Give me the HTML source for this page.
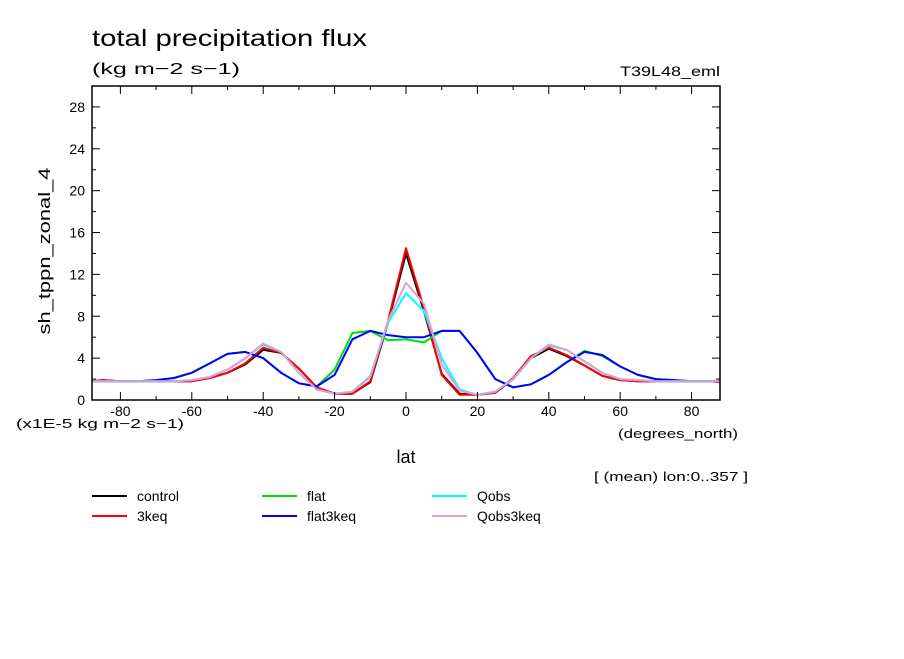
<!DOCTYPE html>
<html><head><meta charset="utf-8"><style>
body{margin:0;background:#fff;width:904px;height:654px;overflow:hidden}
svg{font-family:"Liberation Sans",sans-serif}
</style></head><body>
<svg id="c" width="904" height="654">
<text x="92" y="46" font-size="23" textLength="275" lengthAdjust="spacingAndGlyphs">total precipitation flux</text>
<text x="92" y="74" font-size="16" textLength="148" lengthAdjust="spacingAndGlyphs">(kg m−2 s−1)</text>
<text x="620" y="76" font-size="14" textLength="100" lengthAdjust="spacingAndGlyphs">T39L48_eml</text>
<text transform="translate(50,251) rotate(-90)" font-size="17" text-anchor="middle" textLength="167" lengthAdjust="spacingAndGlyphs">sh_tppn_zonal_4</text>
<text x="16" y="428" font-size="13" textLength="168" lengthAdjust="spacingAndGlyphs">(x1E-5 kg m−2 s−1)</text>
<text x="618" y="438" font-size="13" textLength="120" lengthAdjust="spacingAndGlyphs">(degrees_north)</text>
<text x="406" y="463" font-size="18" text-anchor="middle">lat</text>
<text x="594" y="481" font-size="13" textLength="154" lengthAdjust="spacingAndGlyphs">[ (mean) lon:0..357 ]</text>
<g id="plot"></g>
<g id="legend"></g>
</svg>
<script>
const lats=[-88,-85,-80,-75,-70,-65,-60,-55,-50,-45,-40,-35,-30,-25,-20,-15,-10,-5,0,5,10,15,20,25,30,35,40,45,50,55,60,65,70,75,80,85,88];
const control=[1.8,1.9,1.8,1.8,1.8,1.8,1.8,2.1,2.6,3.4,4.8,4.5,3.0,1.2,0.6,0.6,1.7,7.4,14.0,8.5,2.5,0.6,0.5,0.7,2.0,4.0,4.9,4.2,3.3,2.3,1.9,1.8,1.8,1.8,1.8,1.8,1.8];
const keq3=[1.8,1.9,1.8,1.8,1.8,1.8,1.8,2.1,2.6,3.5,5.0,4.5,3.0,1.2,0.6,0.6,1.8,7.6,14.5,8.8,2.4,0.5,0.5,0.7,2.1,4.2,5.0,4.3,3.3,2.3,1.9,1.8,1.8,1.8,1.8,1.8,1.7];
const flat=[1.8,1.8,1.8,1.8,1.9,2.1,2.6,3.5,4.4,4.6,4.0,2.6,1.6,1.3,2.9,6.4,6.6,5.7,5.8,5.5,6.6,6.6,4.5,2.0,1.2,1.5,2.4,3.6,4.7,4.2,3.2,2.4,2.0,1.9,1.8,1.8,1.8];
const flat3keq=[1.8,1.8,1.8,1.8,1.9,2.1,2.6,3.5,4.4,4.6,4.0,2.6,1.6,1.3,2.4,5.8,6.6,6.2,6.0,6.0,6.6,6.6,4.5,2.0,1.2,1.5,2.4,3.6,4.6,4.3,3.2,2.4,2.0,1.9,1.8,1.8,1.8];
const qobs=[1.8,1.8,1.8,1.8,1.8,1.8,1.9,2.2,2.9,4.0,5.3,4.6,2.6,1.0,0.6,0.8,2.3,7.4,10.2,8.5,4.0,1.0,0.5,0.8,2.0,4.0,5.2,4.8,3.7,2.6,2.0,1.9,1.8,1.8,1.8,1.8,1.8];
const qobs3keq=[1.8,1.8,1.8,1.8,1.8,1.8,1.9,2.2,2.9,4.0,5.4,4.6,2.6,1.0,0.6,0.8,2.2,7.6,11.2,9.2,3.4,0.9,0.5,0.8,2.0,4.0,5.3,4.8,3.7,2.6,2.0,1.9,1.8,1.8,1.8,1.8,1.8];
const yTicks=[0,4,8,12,16,20,24,28];
const xTicks=[-80,-60,-40,-20,0,20,40,60,80];
const names=["control","3keq","flat","flat3keq","Qobs","Qobs3keq"];
const colors=["#000","#f00","#0d0","#00f","#0ff","#d9a0d9"];
const series=[control,keq3,flat,flat3keq,qobs,qobs3keq];
const X0=92,X1=720,Y0=400,Y1=86;
const xs=v=>406+v*3.57;
const ys=v=>Y0-(v/30)*(Y0-Y1);
const NS="http://www.w3.org/2000/svg";
const plot=document.getElementById('plot');
function mk(t,a,p){const e=document.createElementNS(NS,t);for(const k in a)e.setAttribute(k,a[k]);(p||plot).appendChild(e);return e;}
series.forEach((s,i)=>{
 const pts=s.map((v,j)=>xs(lats[j]).toFixed(1)+","+ys(v).toFixed(1)).join(" ");
 const l=mk('polyline',{points:pts,fill:'none',stroke:colors[i],'stroke-width':2,'stroke-linejoin':'round'});
 
 
});
const fr=mk('rect',{x:X0,y:Y1,width:X1-X0,height:Y0-Y1,fill:'none',stroke:'#000','stroke-width':1.5});


for(let v=-80;v<=80;v+=10){const x=xs(v),L=v%20===0?8:4;mk('line',{x1:x,x2:x,y1:Y0,y2:Y0-L,stroke:'#000'});mk('line',{x1:x,x2:x,y1:Y1,y2:Y1+L,stroke:'#000'});}
for(let v=0;v<=30;v+=2){const y=ys(v),L=v%4===0?8:4;mk('line',{x1:X0,x2:X0+L,y1:y,y2:y,stroke:'#000'});mk('line',{x1:X1,x2:X1-L,y1:y,y2:y,stroke:'#000'});}
xTicks.forEach(v=>{const t=mk('text',{x:xs(v),y:416,'font-size':14,'text-anchor':'middle'});t.textContent=v;
 
 });
yTicks.forEach(v=>{const t=mk('text',{x:85,y:ys(v)+5,'font-size':14,'text-anchor':'end'});t.textContent=v;
 
 });
const lg=document.getElementById('legend');
const lx=[92,92,262,262,432,432],ly=[496,516,496,516,496,516];
series.forEach((s,i)=>{
 const g=mk('g',{},lg);
 
 
 mk('line',{x1:lx[i],x2:lx[i]+35,y1:ly[i],y2:ly[i],stroke:colors[i],'stroke-width':2},g);
 const t=mk('text',{x:lx[i]+45,y:ly[i]+5,'font-size':14},g);t.textContent=names[i];
});
</script>
</body></html>
